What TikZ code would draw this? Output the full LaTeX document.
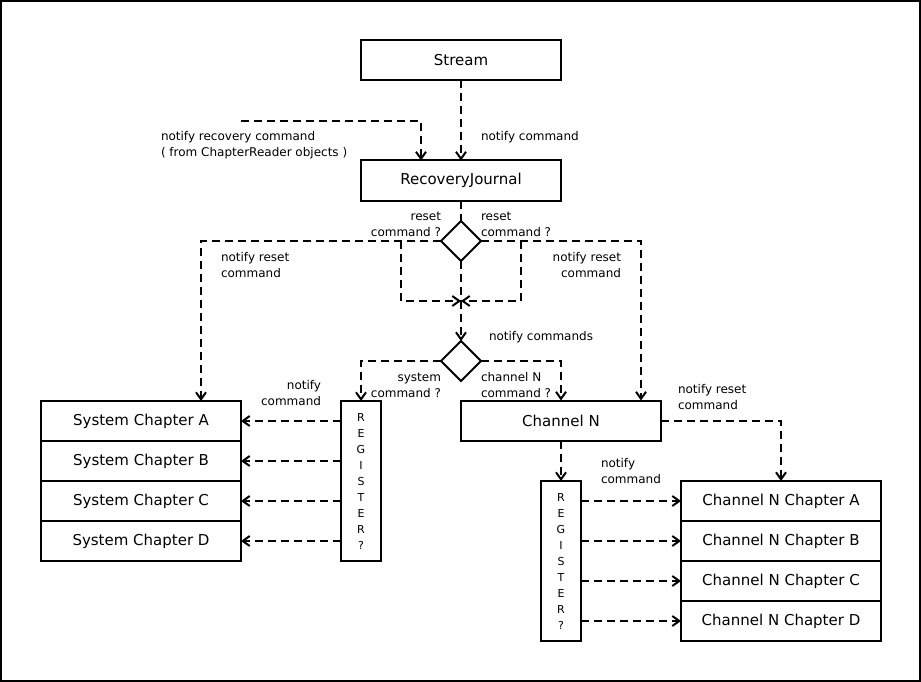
\documentclass[tikz,border=0pt]{standalone}
\usepackage{fontspec}
\setmainfont{DejaVu Sans}
\usetikzlibrary{arrows.meta,shapes.geometric}
\begin{document}
\begin{tikzpicture}[x=1pt,y=-1pt,
  every node/.style={inner sep=0pt, outer sep=0pt},
  box/.style={draw, line width=2pt, minimum width=200pt, minimum height=40pt,
    font=\fontsize{15}{18}\selectfont},
  regbox/.style={draw, line width=2pt, minimum width=40pt, minimum height=160pt,
    align=center, font=\fontsize{11}{16}\selectfont},
  decision/.style={draw, diamond, line width=2pt, minimum width=40pt,
    minimum height=40pt, inner sep=0pt},
  note/.style={font=\fontsize{12}{16}\selectfont},
  flow/.style={line width=2pt, dash pattern=on 8pt off 5pt},
  notify/.style={flow, -{Straight Barb[length=7pt,width=10pt]}},
]
% page and frame
\useasboundingbox (0,0) rectangle (921,682);
\draw[line width=2pt] (1,1) rectangle (920,681);

% main objects
\node[box] (stream) at (461,60.5) {Stream};
\node[box] (rj) at (461,180.5) {RecoveryJournal};
\node[decision] (d1) at (461,241) {};
\node[decision] (d2) at (461,361) {};
\node[box] (chan) at (561,420.5) {Channel N};

% system chapters
\node[box] (sysA) at (141,421) {System Chapter A};
\node[box] (sysB) at (141,461) {System Chapter B};
\node[box] (sysC) at (141,501) {System Chapter C};
\node[box] (sysD) at (141,541) {System Chapter D};
\node[regbox] (reg1) at (361,481) {R\\E\\G\\I\\S\\T\\E\\R\\?};

% channel chapters
\node[box] (chA) at (781,501) {Channel N Chapter A};
\node[box] (chB) at (781,541) {Channel N Chapter B};
\node[box] (chC) at (781,581) {Channel N Chapter C};
\node[box] (chD) at (781,621) {Channel N Chapter D};
\node[regbox] (reg2) at (561,561) {R\\E\\G\\I\\S\\T\\E\\R\\?};

% free ends and junctions
\coordinate (recsrc) at (241,121);
\coordinate (lbranch) at (401,241);
\coordinate (rbranch) at (521,241);
\coordinate (merge) at (461,301);

% connectors
\draw[notify] (stream) -- (rj);
\draw[notify] (recsrc) -| ([xshift=-40pt]rj.north);
\draw[flow] (rj) -- (d1);
\draw[notify] (d1.west) -| ([xshift=60pt]sysA.north);
\draw[notify] (d1.east) -| ([xshift=80pt]chan.north);
\draw[notify] (lbranch) |- (merge);
\draw[notify] (rbranch) |- (merge);
\draw[flow] (d1) -- (merge);
\draw[notify] (merge) -- (d2);
\draw[notify] (d2.west) -| (reg1.north);
\draw[notify] (d2.east) -| (chan.north);
\draw[notify] (reg1.west |- sysA) -- (sysA.east);
\draw[notify] (reg1.west |- sysB) -- (sysB.east);
\draw[notify] (reg1.west |- sysC) -- (sysC.east);
\draw[notify] (reg1.west |- sysD) -- (sysD.east);
\draw[notify] (chan.east) -| (chA.north);
\draw[notify] (chan) -- (reg2);
\draw[notify] (reg2.east |- chA) -- (chA.west);
\draw[notify] (reg2.east |- chB) -- (chB.west);
\draw[notify] (reg2.east |- chC) -- (chC.west);
\draw[notify] (reg2.east |- chD) -- (chD.west);

% connector labels (base anchor of a two-line note sits on its last line)
\node[note, anchor=base west, align=left] (lrec) at (161,157)
  {notify recovery command\\( from ChapterReader objects )};
\node[note, anchor=base west, align=left] (lnot) at (481,141) {notify command};
\node[note, anchor=base east, align=right] (lresl) at (441,236) {reset\\command ?};
\node[note, anchor=base west, align=left] (lresr) at (481,236) {reset\\command ?};
\node[note, anchor=base west, align=left] (lnrl) at (221,277) {notify reset\\command};
\node[note, anchor=base east, align=right] (lnrr) at (621,277) {notify reset\\command};
\node[note, anchor=base west, align=left] (lnc) at (489,340) {notify commands};
\node[note, anchor=base east, align=right] (lsys) at (441,397) {system\\command ?};
\node[note, anchor=base west, align=left] (lch) at (481,397) {channel N\\command ?};
\node[note, anchor=base east, align=right] (lns) at (321,405) {notify\\command};
\node[note, anchor=base west, align=left] (lncr) at (678,409) {notify reset\\command};
\node[note, anchor=base west, align=left] (lncc) at (601,483) {notify\\command};
\end{tikzpicture}
\end{document}
